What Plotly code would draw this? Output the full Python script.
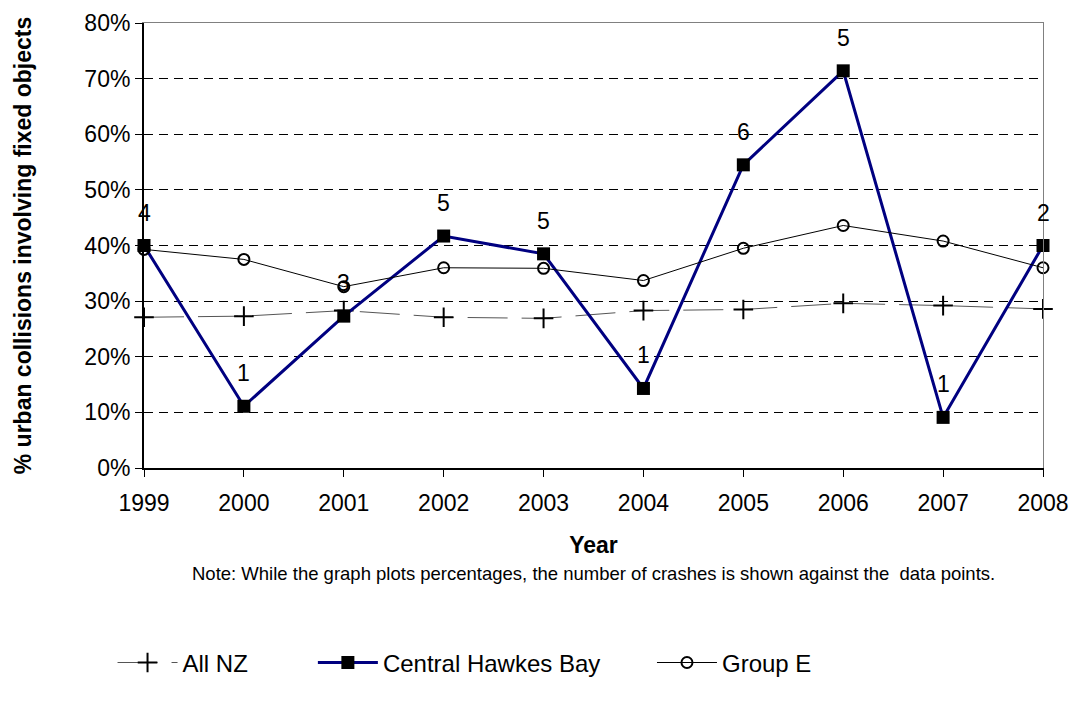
import plotly.graph_objects as go

years = [1999, 2000, 2001, 2002, 2003, 2004, 2005, 2006, 2007, 2008]
year_labels = ["1999", "2000", "2001", "2002", "2003", "2004", "2005", "2006", "2007", "2008"]
pct_ticks = [0, 10, 20, 30, 40, 50, 60, 70, 80]
pct_labels = ["0%", "10%", "20%", "30%", "40%", "50%", "60%", "70%", "80%"]

all_nz = [27.1, 27.3, 28.3, 27.1, 26.9, 28.3, 28.5, 29.6, 29.2, 28.6]
central_hb = [40.0, 11.1, 27.3, 41.7, 38.5, 14.3, 54.5, 71.4, 9.1, 40.0]
group_e = [39.3, 37.5, 32.6, 36.0, 35.9, 33.7, 39.5, 43.6, 40.8, 36.0]
crash_counts = [4, 1, 3, 5, 5, 1, 6, 5, 1, 2]

FONT = "Liberation Sans, Arial, sans-serif"
NB = "\u00a0"  # padding after legend names, to space the entries out

fig = go.Figure()

fig.add_trace(go.Scatter(
    x=years, y=all_nz, name="All NZ" + NB * 9, mode="lines+markers",
    line=dict(color="#555555", width=1, dash="40px,14px"),
    marker=dict(symbol="cross-thin", size=14, color="black",
                line=dict(color="black", width=2)),
    cliponaxis=False,
))
fig.add_trace(go.Scatter(
    x=years, y=central_hb, name="Central Hawkes Bay" + NB * 7, mode="lines+markers",
    line=dict(color="#000080", width=3),
    marker=dict(symbol="square", size=13, color="black"),
    cliponaxis=False,
))
fig.add_trace(go.Scatter(
    x=years, y=group_e, name="Group E", mode="lines+markers",
    line=dict(color="black", width=1),
    marker=dict(symbol="circle-open", size=11, color="black",
                line=dict(color="black", width=2)),
    cliponaxis=False,
))

# crash counts shown above the Central Hawkes Bay points
for yr, val, n in zip(years, central_hb, crash_counts):
    fig.add_annotation(x=yr, y=val, text=str(n), showarrow=False,
                       yshift=33, font=dict(size=23, color="black", family=FONT))

fig.add_annotation(
    x=0.5, y=-0.236, xref="paper", yref="paper", showarrow=False,
    yanchor="middle",
    text="Note: While the graph plots percentages, the number of crashes is shown against the  data points.",
    font=dict(size=18.5, color="black", family=FONT),
)

fig.update_layout(
    width=1072, height=703,
    margin=dict(l=144, r=29, t=23, b=235),
    plot_bgcolor="white", paper_bgcolor="white",
    font=dict(family=FONT, color="black"),
    showlegend=True,
    legend=dict(orientation="h", x=-0.035, xanchor="left", y=-0.438, yanchor="middle",
                font=dict(size=24, family=FONT), itemwidth=60, traceorder="normal"),
    xaxis=dict(
        range=[1999, 2008], tickmode="array", tickvals=years, ticktext=year_labels,
        tickfont=dict(size=23), ticks="outside", ticklen=7, tickcolor="black",
        ticklabelstandoff=6,
        showline=True, linecolor="black", linewidth=2,
        showgrid=False, zeroline=False, automargin=False,
        title=dict(text="<b>Year</b>", font=dict(size=23), standoff=22),
    ),
    xaxis2=dict(overlaying="x", range=[1999, 2008], showline=True, linecolor="#808080",
                linewidth=1, side="top", showticklabels=False, showgrid=False, ticks="",
                automargin=False),
    yaxis=dict(
        range=[0, 80], tickmode="array", tickvals=pct_ticks, ticktext=pct_labels,
        tickfont=dict(size=23), ticks="outside", ticklen=7,
        tickcolor="black", showline=True, linecolor="black", linewidth=2,
        showgrid=True, gridcolor="black", gridwidth=1, griddash="9px,6px",
        zeroline=False, automargin=False,
        title=dict(text="<b>% urban collisions involving fixed objects</b>",
                   font=dict(size=23), standoff=46),
    ),
    yaxis2=dict(overlaying="y", range=[0, 80], side="right", showline=True,
                linecolor="#808080", linewidth=1, showticklabels=False,
                showgrid=False, ticks="", automargin=False),
)

# invisible trace so the top/right frame axes are drawn
fig.add_trace(go.Scatter(x=[years[0]], y=[0], xaxis="x2", yaxis="y2",
                         mode="markers", marker=dict(opacity=0),
                         showlegend=False, hoverinfo="skip"))

# drop the default page margin so the figure fills the window exactly
fig.write_html("out.html", config={"displayModeBar": False},
               post_script="document.body.style.margin = '0';")
